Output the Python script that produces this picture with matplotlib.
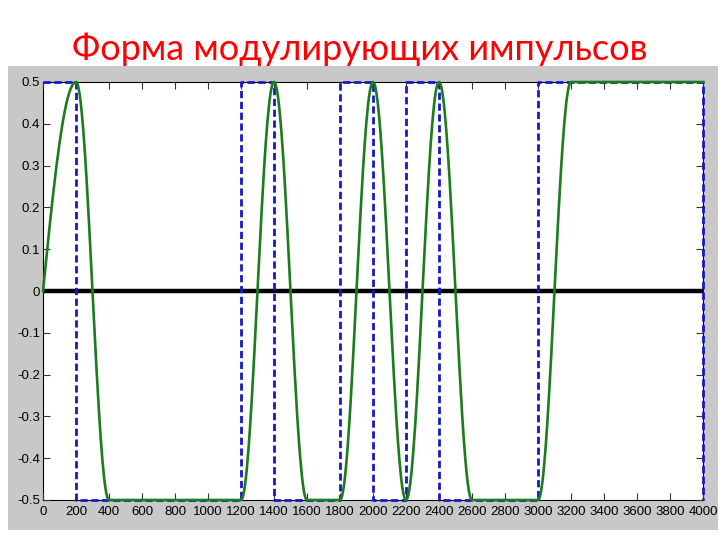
import numpy as np
import matplotlib
matplotlib.use("Agg")
import matplotlib.pyplot as plt
from matplotlib.patches import Rectangle

# data
title = "Форма модулирующих импульсов"

# blue dashed: rectangular bit pulses (last value = drop at the end)
blue_x = [0, 200, 1200, 1400, 1800, 2000, 2200, 2400, 3000, 4000]
blue_y = [0.5, -0.5, 0.5, -0.5, 0.5, -0.5, 0.5, -0.5, 0.5, -0.5]

# green: shaped pulse, levels at the bit boundaries (cosine edges between them)
green_x = [-200, 200, 400, 600, 800, 1000, 1200, 1400, 1600, 1800, 2000,
           2200, 2400, 2600, 2800, 3000, 3200, 3400, 3600, 3800, 4000]
green_y = [-0.5, 0.5, -0.5, -0.5, -0.5, -0.5, -0.5, 0.5, -0.5, -0.5, 0.5,
           -0.5, 0.5, -0.5, -0.5, -0.5, 0.5, 0.5, 0.5, 0.5, 0.5]

xticks = list(range(0, 4001, 200))
yticks = [-0.5, -0.4, -0.3, -0.2, -0.1, 0, 0.1, 0.2, 0.3, 0.4, 0.5]
ytick_labels = ["-0.5", "-0.4", "-0.3", "-0.2", "-0.1", "0",
                "0.1", "0.2", "0.3", "0.4", "0.5"]

# half-cosine edge between neighbouring knots
gx, gy = [], []
for i in range(len(green_x) - 1):
    t = np.linspace(0, 1, 41)
    a, b = green_y[i], green_y[i + 1]
    gx.extend(green_x[i] + (green_x[i + 1] - green_x[i]) * t)
    gy.extend(a + (b - a) * (1 - np.cos(np.pi * t)) / 2)
gx = np.array(gx)
gy = np.array(gy)
keep = gx >= 0
gx, gy = gx[keep], gy[keep]

fig = plt.figure(figsize=(7.2, 5.4), dpi=100, facecolor="white")

# grey matlab-like figure panel
fig.patches.append(Rectangle((8 / 720, 1 - 530 / 540), 710 / 720, 464 / 540,
                             transform=fig.transFigure, facecolor="#c8c8c8",
                             edgecolor="none", zorder=-1))

fig.text(0.5, 1 - 60 / 540, title, color="red", fontsize=26, family="Lato",
         ha="center", va="baseline")

ax = fig.add_axes([43 / 720, 1 - 500 / 540, 660 / 720, 418 / 540])
ax.set_facecolor("white")

ax.axhline(0, color="black", lw=3.2, zorder=2)
ax.step(blue_x, blue_y, where="post", color="#1818c8", lw=2.0,
        ls=(0, (2.6, 1.3)), zorder=3, clip_on=False)
ax.plot(gx, gy, color="#1b7d1b", lw=1.9, zorder=4, clip_on=False)

ax.set_xlim(0, 4000)
ax.set_ylim(-0.5, 0.5)
ax.set_xticks(xticks)
ax.set_xticklabels([str(v) for v in xticks])
ax.set_yticks(yticks)
ax.set_yticklabels(ytick_labels)
ax.tick_params(direction="in", top=True, right=True, length=5, width=0.8,
               color="#333333", labelsize=9.5)
ax.tick_params(axis="x", pad=4)
ax.tick_params(axis="y", pad=2)
for lab in ax.get_xticklabels() + ax.get_yticklabels():
    lab.set_family("Liberation Sans")
for s in ax.spines.values():
    s.set_linewidth(0.8)
    s.set_zorder(1)

fig.savefig("out.png", dpi=100, facecolor="white")
